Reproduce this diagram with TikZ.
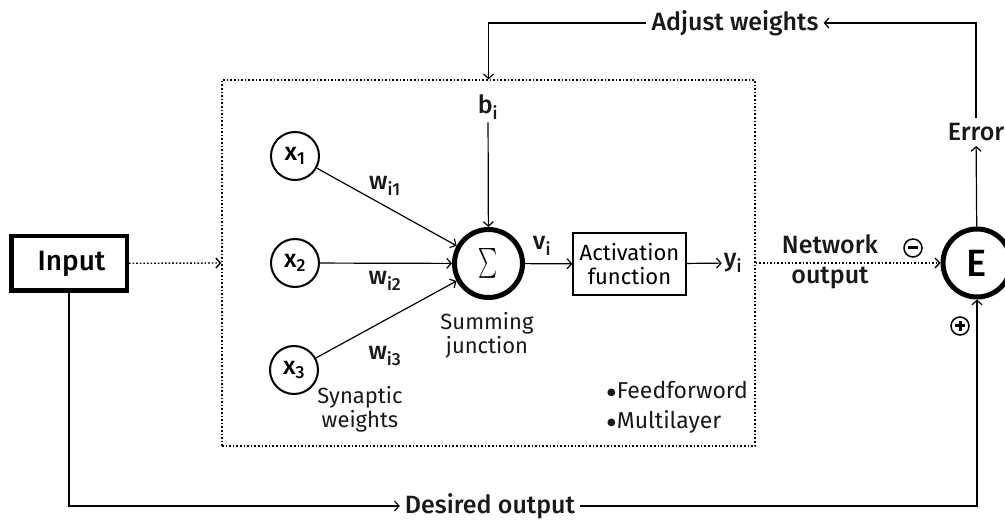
\documentclass[tikz,border=0pt]{standalone}
\usepackage{amsmath}
\usepackage{fontspec}
\usepackage{graphicx}
\setmainfont{Fira Sans}
\newfontfamily\medfont{Fira Sans Medium}
\newfontfamily\dejavu{DejaVu Sans}
\usetikzlibrary{arrows.meta}
\newcommand{\fsz}[2]{\fontsize{#1}{#2}\selectfont}
\newcommand{\bul}{\raisebox{2.5pt}{\dejavu\fsz{10}{10}●}\hspace{1pt}}
\tikzset{
  conn/.style={line width=1.2pt, -{Straight Barb[length=4.5pt,width=10pt]}},
  dotline/.style={line width=1.4pt, dash pattern=on 1.6pt off 2pt},
  bigc/.style={circle, draw, line width=5pt, minimum size=68pt, inner sep=0pt},
  smallc/.style={circle, draw, line width=2pt, minimum size=48pt, inner sep=0pt, font=\medfont\fsz{25}{25}},
  lbl/.style={inner sep=5pt, font=\medfont\fsz{25}{30}, text=black!90},
  light/.style={inner sep=2pt, font=\fsz{22}{24}, text=black!90},
  pm/.style={circle, draw, line width=1.5pt, minimum size=18pt, inner sep=0pt},
}
\begin{document}
\begin{tikzpicture}[x=1pt,y=-1pt]
\useasboundingbox (0,0) rectangle (1005,521);
% main frames
\node[draw, line width=4.5pt, minimum width=115.5pt, minimum height=54.5pt, inner sep=0pt, font=\medfont\fsz{28}{30}] (input) at (69,263.5) {\hspace{5pt}Input};
\node[draw, line width=1.4pt, dash pattern=on 1.6pt off 2pt, minimum width=533pt, minimum height=366pt, inner sep=0pt] (box) at (488.5,263) {};
% neuron
\node[bigc] (sigma) at (488.5,263.5) {\fsz{24.88}{25}\scalebox{0.73}[1.2]{$\textstyle\sum$}};
\node[bigc] (E) at (977,263) {\medfont\fsz{38}{38}E};
\node[smallc] (x1) at (295,156) {x\textsubscript{1}};
\node[smallc] (x2) at (295,263) {x\textsubscript{2}};
\node[smallc] (x3) at (294,370) {x\textsubscript{3}};
\node[draw, line width=1.2pt, minimum width=113pt, minimum height=62pt, inner sep=0pt, align=center, font=\fsz{22}{24}] (act) at (629.5,264) {Activation\\function};
% labels
\node[lbl, inner sep=3pt] (bi) at (488,107) {b\textsubscript{i}};
\node[lbl, inner sep=1pt] (w1) at (385,186) {w\textsubscript{i1}};
\node[lbl, inner sep=1pt] (w2) at (385,281) {w\textsubscript{i2}};
\node[lbl, inner sep=1pt] (w3) at (385,356) {w\textsubscript{i3}};
\node[lbl, inner sep=1pt] (vi) at (542,246) {v\textsubscript{i}};
\node[lbl, inner sep=2pt] (yi) at (733,263) {y\textsubscript{i}};
\node[light, align=center] (sum) at (487,335) {Summing\\junction};
\node[light, align=center] (syn) at (360,409) {Synaptic\\weights};
\node[light, align=left, anchor=west, font=\fsz{23}{30}] (ff) at (605,407) {\bul Feedforword\\\bul Multilayer};
\node[lbl, align=center] (net) at (830,262) {Network\\output};
\node[lbl] (err) at (976,132) {Error};
\node[lbl] (adj) at (735,23) {Adjust weights};
\node[lbl] (des) at (490,506) {Desired output};
\node[pm] (minus) at (913,248) {};
\node[pm] (plus) at (960,326) {};
\draw[line width=3pt] ([xshift=-5pt]minus.center) -- ([xshift=5pt]minus.center);
\draw[line width=3pt] ([xshift=-5pt]plus.center) -- ([xshift=5pt]plus.center);
\draw[line width=3pt] ([yshift=-5pt]plus.center) -- ([yshift=5pt]plus.center);
% connectors
\draw[conn] (x1) -- (sigma);
\draw[conn] (x2) -- (sigma);
\draw[conn] (x3) -- (sigma);
\draw[conn] (bi) -- (sigma);
\draw[conn] (sigma) -- (act);
\draw[conn] (act) -- (yi);
\draw[dotline, -{Straight Barb[length=4.5pt,width=10pt]}] (input) -- (box.west);
\draw[dotline, -{Straight Barb[length=4.5pt,width=10pt]}] (box.east) -- (E);
\draw[conn] (E) -- (err);
\draw[conn] (err.north) |- (adj.east);
\draw[conn] (adj.west) -| (box.north);
\draw[conn] (input.south) |- (des.west);
\draw[conn] (des.east) -| (E.south);
\end{tikzpicture}
\end{document}
